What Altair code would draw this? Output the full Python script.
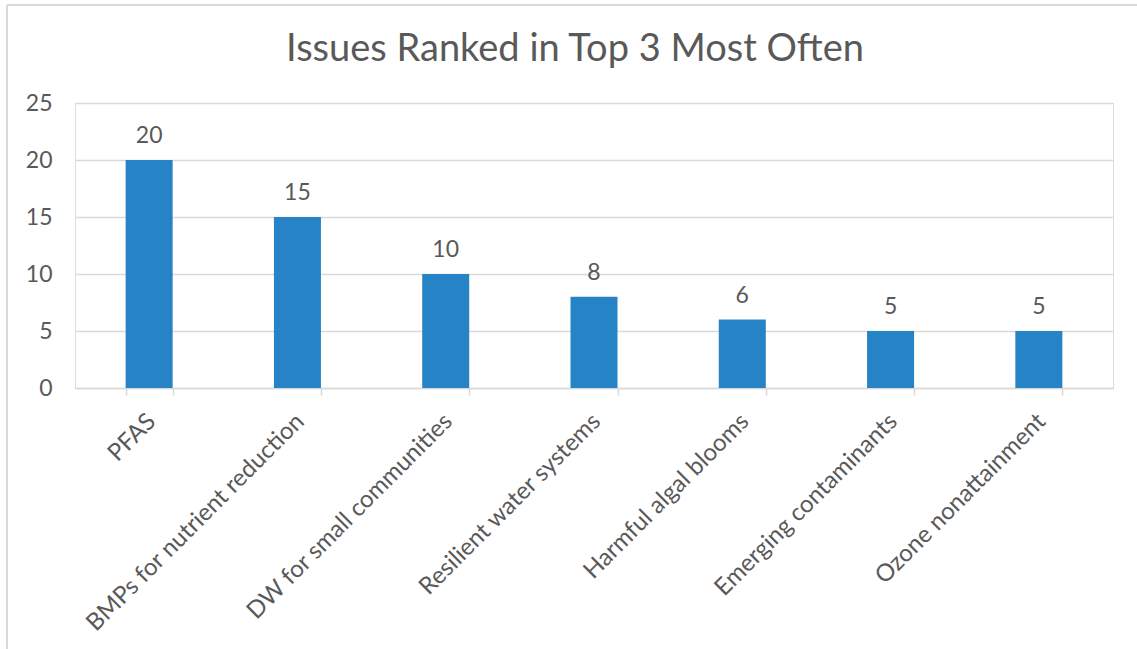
import altair as alt
import pandas as pd

issues = [
    "PFAS",
    "BMPs for nutrient reduction",
    "DW for small communities",
    "Resilient water systems",
    "Harmful algal blooms",
    "Emerging contaminants",
    "Ozone nonattainment",
]
counts = [20, 15, 10, 8, 6, 5, 5]
y_ticks = [0, 5, 10, 15, 20, 25]

df = pd.DataFrame({"issue": issues, "count": counts})

FONT = "Lato"
TXT = "#595959"
GRID = "#d9d9d9"
BLUE = "#2683C6"
FS = 23

x_enc = alt.X(
    "issue:N",
    sort=issues,
    scale=alt.Scale(paddingInner=0.683, paddingOuter=0.3415),
    axis=alt.Axis(
        title=None,
        labelAngle=-45,
        labelFont=FONT,
        labelFontSize=24,
        labelColor=TXT,
        labelPadding=14,
        labelOffset=-6,
        domainColor=GRID,
        domainWidth=1.5,
        tickColor=GRID,
        tickWidth=1.5,
        tickSize=7,
        tickBand="extent",
        grid=False,
        labelLimit=400,
    ),
)
y_enc = alt.Y(
    "count:Q",
    scale=alt.Scale(domain=[0, 25], nice=False),
    axis=alt.Axis(
        title=None,
        values=y_ticks,
        labelFont=FONT,
        labelFontSize=FS,
        labelColor=TXT,
        labelPadding=23,
        domain=False,
        ticks=False,
        grid=True,
        gridColor=GRID,
        gridWidth=1.5,
    ),
)

base = alt.Chart(df)
bars = base.mark_bar(color=BLUE).encode(x=x_enc, y=y_enc)
labels = base.mark_text(
    font=FONT, fontSize=FS, color=TXT, baseline="alphabetic", dy=-17
).encode(x=alt.X("issue:N", sort=issues), y="count:Q", text="count:Q")

border_df = pd.DataFrame({"k": [0]})
left_border = alt.Chart(border_df).mark_rule(color=GRID, strokeWidth=2).encode(
    x=alt.value(-68), y=alt.value(-98), y2=alt.value(600)
)
top_border = alt.Chart(border_df).mark_rule(color=GRID, strokeWidth=2).encode(
    x=alt.value(-68), x2=alt.value(1100), y=alt.value(-98)
)

chart = (
    alt.layer(bars, labels, left_border, top_border)
    .properties(
        width=1038,
        height=285,
        title=alt.TitleParams(
            "Issues Ranked in Top 3 Most Often",
            font=FONT,
            fontSize=38,
            fontWeight="normal",
            color=TXT,
            anchor="middle",
            baseline="alphabetic",
            dx=-19,
            dy=95,
            offset=0,
        ),
        padding={"left": 75, "top": 103, "right": 24, "bottom": 261},
        autosize=alt.AutoSizeParams(type="none"),
    )
    .configure_view(strokeWidth=0)
    .configure(background="white")
)

chart.save("out.html", embed_options={"renderer": "svg", "actions": False})
